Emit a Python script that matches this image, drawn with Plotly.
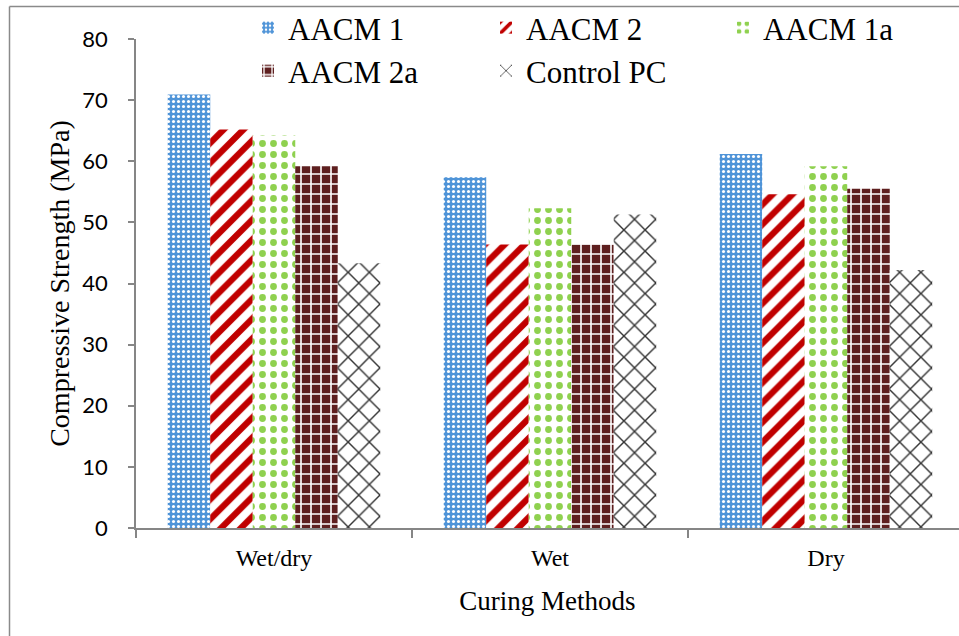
import plotly.graph_objects as go

categories = ["Wet/dry", "Wet", "Dry"]
series_names = ["AACM 1", "AACM 2", "AACM 1a", "AACM 2a", "Control PC"]
aacm1 = [70.9, 57.4, 61.2]
aacm2 = [65.2, 46.4, 54.6]
aacm1a = [64.2, 52.3, 59.2]
aacm2a = [59.2, 46.4, 55.5]
control_pc = [43.3, 51.3, 42.2]
y_ticks = [0, 10, 20, 30, 40, 50, 60, 70, 80]

values = [aacm1, aacm2, aacm1a, aacm2a, control_pc]

patterns = [
    dict(shape=".", bgcolor="#4f94d8", fgcolor="#ffffff", size=5, solidity=0.3),
    dict(shape="/", bgcolor="#ffffff", fgcolor="#c00000", size=14, solidity=0.45),
    dict(shape=".", bgcolor="#ffffff", fgcolor="#8fd14f", size=11, solidity=0.3),
    dict(shape="+", bgcolor="#5e1f1f", fgcolor="#ffffff", size=10, solidity=0.3),
    dict(shape="x", bgcolor="#ffffff", fgcolor="#333333", size=15, solidity=0.18),
]
base_colors = ["#4f94d8", "#ffffff", "#ffffff", "#5e1f1f", "#ffffff"]

SERIF = "Liberation Serif"

# legend positions (paper coords)
legend_pos = [
    (0.1361, 1.0225),
    (0.4253, 1.0225),
    (0.7132, 1.0225),
    (0.1361, 0.9345),
    (0.4253, 0.9345),
]
legend_ids = ["legend", "legend2", "legend3", "legend4", "legend5"]

fig = go.Figure()
for i, (name, vals) in enumerate(zip(series_names, values)):
    p = patterns[i]
    fig.add_trace(go.Bar(
        x=categories, y=vals, name=name,
        marker=dict(
            color=base_colors[i],
            line=dict(width=0),
            pattern=dict(shape=p["shape"], bgcolor=p["bgcolor"], fgcolor=p["fgcolor"],
                         size=p["size"], solidity=p["solidity"], fillmode="replace"),
        ),
        legend=legend_ids[i],
    ))

legend_font = dict(family=SERIF, size=31, color="#000000")
layout_legends = {}
for lid, (lx, ly) in zip(legend_ids, legend_pos):
    layout_legends[lid] = dict(x=lx, y=ly, xanchor="left", yanchor="middle",
                               bgcolor="rgba(0,0,0,0)", font=legend_font,
                               borderwidth=0)

fig.update_layout(
    width=959, height=636,
    margin=dict(l=136, r=0, t=39, b=108),
    paper_bgcolor="#ffffff", plot_bgcolor="#ffffff",
    barmode="group", bargap=0.23, bargroupgap=0,
    showlegend=True,
    **layout_legends,
    xaxis=dict(
        range=[-0.5, 2.482],
        showline=True, linecolor="#868686", linewidth=1.5,
        ticks="outside", tickson="boundaries", ticklen=8, tickcolor="#868686", tickwidth=1.5,
        ticklabelstandoff=7,
        tickfont=dict(family=SERIF, size=24, color="#000000"),
        title=dict(text="Curing Methods", standoff=22,
                   font=dict(family=SERIF, size=27, color="#000000")),
        showgrid=False, zeroline=False,
    ),
    yaxis=dict(
        range=[0, 80], tickvals=y_ticks,
        showline=True, linecolor="#868686", linewidth=1.5,
        ticks="outside", ticklen=6, tickcolor="#868686", tickwidth=1.5,
        ticklabelstandoff=16,
        tickfont=dict(family="Lato", size=22, color="#000000"),
        title=dict(text="Compressive Strength (MPa)", standoff=5,
                   font=dict(family=SERIF, size=28, color="#000000")),
        showgrid=False, zeroline=False,
    ),
)

# outer frame (left and top edges visible in the reference)
fx = (9.5 - 136) / 823
fy = 1 + (39 - 6.5) / 489
fig.add_shape(type="line", xref="paper", yref="paper", x0=fx, x1=fx, y0=-0.3, y1=fy,
              line=dict(color="#8a8a8a", width=1.5))
fig.add_shape(type="line", xref="paper", yref="paper", x0=fx, x1=1.05, y0=fy, y1=fy,
              line=dict(color="#8a8a8a", width=1.5))

fig.write_html("out.html")
